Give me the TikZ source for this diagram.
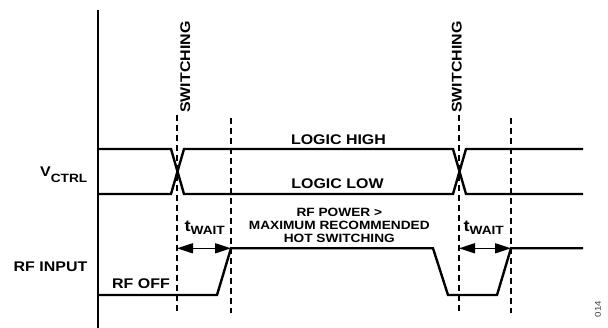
\documentclass[tikz,border=0pt]{standalone}
\usepackage{fontspec}
\setmainfont{Liberation Sans}[FakeStretch=1.14]
\usetikzlibrary{arrows.meta}
\begin{document}
\begin{tikzpicture}[x=1pt,y=-1pt,
  sig/.style={line width=2.4pt, line join=miter},
  axisline/.style={line width=2pt},
  guide/.style={line width=1.3pt, dash pattern=on 6pt off 4pt},
  lbl/.style={inner sep=0pt, font=\fontsize{14}{14}\selectfont\bfseries},
  smalllbl/.style={inner sep=0pt, font=\fontsize{12}{13}\selectfont\bfseries},
  waitarrow/.style={line width=1.4pt, {Triangle[length=16pt,width=10pt]}-{Triangle[length=16pt,width=10pt]}}
]
\useasboundingbox (0,0) rectangle (608,328);

% axis
\coordinate (axtop) at (98,10);
\coordinate (axbot) at (98,328);
\draw[axisline] (axtop) -- (axbot);

% dashed guides
\coordinate (g1t) at (177,115); \coordinate (g1b) at (177,313);
\coordinate (g2t) at (231,118); \coordinate (g2b) at (231,313);
\coordinate (g3t) at (459,115); \coordinate (g3b) at (459,313);
\coordinate (g4t) at (511,118); \coordinate (g4b) at (511,313);
\draw[guide] (g1t) -- (g1b);
\draw[guide] (g2t) -- (g2b);
\draw[guide] (g3t) -- (g3b);
\draw[guide] (g4t) -- (g4b);

% V_CTRL signals
\draw[sig] (98,149) -- (171,149) -- (184,194) -- (453,194) -- (466,149) -- (583,149);
\draw[sig] (98,194) -- (171,194) -- (184,149) -- (453,149) -- (466,194) -- (583,194);

% RF input
\draw[sig] (98,295) -- (217,295) -- (231,248.3) -- (433,248.3) -- (448,295) -- (497,295) -- (511,248.3) -- (583,248.3);

% t_wait arrows
\coordinate (w1a) at (177,248.3); \coordinate (w1b) at (231,248.3);
\coordinate (w2a) at (459,248.3); \coordinate (w2b) at (511,248.3);
\draw[waitarrow] (w1a) -- (w1b);
\draw[waitarrow] (w2a) -- (w2b);

% labels
\node[lbl, rotate=90, anchor=base west] (sw1) at (190,113) {SWITCHING};
\node[lbl, rotate=90, anchor=base west] (sw2) at (461.5,113) {SWITCHING};
\node[lbl, anchor=base] (lh) at (338.5,145) {LOGIC HIGH};
\node[lbl, anchor=base] (ll) at (337.5,188.3) {LOGIC LOW};
\node[lbl, anchor=base east] (vctrl) at (87.5,176.7) {V\raisebox{-6pt}{\fontsize{12}{12}\selectfont CTRL}};
\node[lbl, anchor=base east] (rfin) at (87.5,271.5) {RF INPUT};
\node[lbl, anchor=base] (rfoff) at (141,288.3) {RF OFF};
\node[smalllbl, anchor=base] (p1) at (339.3,216.7) {RF POWER >};
\node[smalllbl, anchor=base] (p2) at (339.3,230) {MAXIMUM RECOMMENDED};
\node[smalllbl, anchor=base] (p3) at (339.3,243) {HOT SWITCHING};
\node[lbl, anchor=base] (tw1) at (204.7,231.7) {{\fontsize{16}{16}\selectfont t}\raisebox{-3pt}{\fontsize{12}{12}\selectfont WAIT}};
\node[lbl, anchor=base] (tw2) at (483.7,231.7) {{\fontsize{16}{16}\selectfont t}\raisebox{-3pt}{\fontsize{12}{12}\selectfont WAIT}};
\node[inner sep=0pt, rotate=90, text=black!75, font=\fontsize{8.5}{8.5}\selectfont] (fig) at (598,309) {014};
\end{tikzpicture}
\end{document}
